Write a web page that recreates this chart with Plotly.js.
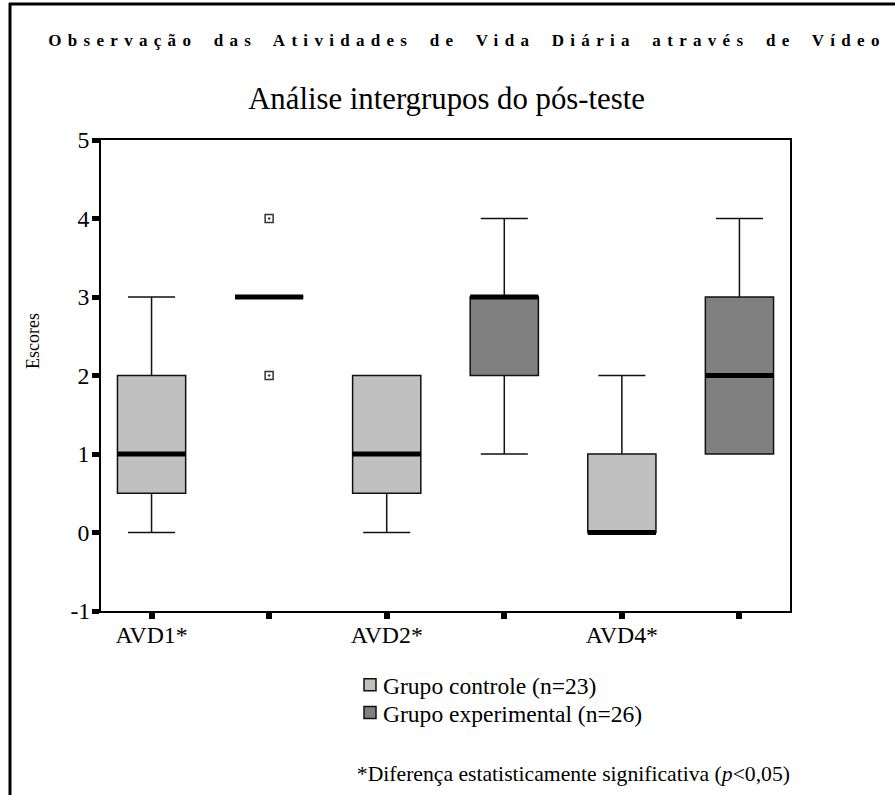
<!DOCTYPE html>
<html>
<head>
<meta charset="utf-8">
<script src="https://cdn.plot.ly/plotly-3.0.1.min.js"></script>
<style>
  html, body { margin: 0; padding: 0; background: #fff; }
  #chart { width: 895px; height: 795px; }
  .gtitle { letter-spacing: 6.3px; word-spacing: 6px; }
  g.annotation[data-index="0"] text { transform-box: fill-box; transform-origin: center; transform: scale(1.62); }
  g.annotation[data-index="2"] text { transform-box: fill-box; transform-origin: right center; transform: scale(1.14); }
  g.xtick, g.ytick { transform-box: fill-box; transform-origin: center; transform: scale(1.25); }
  text.legendtext { transform-box: fill-box; transform-origin: left center; transform: translateX(-7px) scale(1.24); }
</style>
</head>
<body>
<div id="chart"></div>
<script>
// ---- data ----
const groups = ['AVD1*', 'AVD2*', 'AVD4*'];
const seriesNames = ['Grupo controle (n=23)', 'Grupo experimental (n=26)'];
const yTickValues = [-1, 0, 1, 2, 3, 4, 5];
const yTickLabels = ['-1', '0', '1', '2', '3', '4', '5'];

const ctrlLower  = [0, 0, 0];
const ctrlQ1     = [0.5, 0.5, 0];
const ctrlMedian = [1, 1, 0];
const ctrlQ3     = [2, 2, 1];
const ctrlUpper  = [3, 2, 2];

const expLower  = [3, 1, 1];
const expQ1     = [3, 2, 1];
const expMedian = [3, 3, 2];
const expQ3     = [3, 3, 3];
const expUpper  = [3, 4, 4];

// outliers (experimental group, AVD1)
const outlierGroup  = [0, 0];
const outlierValues = [4, 2];

// ---- styles ----
const ctrlColor = '#c0c0c0';
const expColor  = '#808080';
const lineColor = '#111111';
const boxWidth = 0.58;
const serif = 'Liberation Serif';

// positions: control at 2i, experimental at 2i+1
const ctrlPos = groups.map((g, i) => 2 * i);
const expPos  = groups.map((g, i) => 2 * i + 1);
const tickVals = [];
const tickText = [];
groups.forEach((g, i) => { tickVals.push(2 * i, 2 * i + 1); tickText.push(g, ''); });

function medianSegments(pos, med) {
  const xs = [], ys = [];
  pos.forEach((p, i) => { xs.push(p - boxWidth / 2, p + boxWidth / 2, null); ys.push(med[i], med[i], null); });
  return { xs, ys };
}
const mc = medianSegments(ctrlPos, ctrlMedian);
const me = medianSegments(expPos, expMedian);

const traces = [
  {
    type: 'box', name: seriesNames[0], x: ctrlPos,
    q1: ctrlQ1, median: ctrlMedian, q3: ctrlQ3,
    lowerfence: ctrlLower, upperfence: ctrlUpper,
    width: boxWidth, whiskerwidth: 0.69, boxpoints: false,
    fillcolor: ctrlColor, line: { color: lineColor, width: 1.5 },
    hoverinfo: 'skip'
  },
  {
    type: 'box', name: seriesNames[1], x: expPos,
    q1: expQ1, median: expMedian, q3: expQ3,
    lowerfence: expLower, upperfence: expUpper,
    width: boxWidth, whiskerwidth: 0.69, boxpoints: false,
    fillcolor: expColor, line: { color: lineColor, width: 1.5 },
    hoverinfo: 'skip'
  },
  {
    type: 'scatter', mode: 'lines', x: mc.xs, y: mc.ys,
    line: { color: '#000', width: 5 }, showlegend: false, hoverinfo: 'skip'
  },
  {
    type: 'scatter', mode: 'lines', x: me.xs, y: me.ys,
    line: { color: '#000', width: 5 }, showlegend: false, hoverinfo: 'skip'
  },
  {
    type: 'scatter', mode: 'markers',
    x: outlierGroup.map(i => expPos[i]), y: outlierValues,
    marker: { symbol: 'square-open-dot', size: 8, color: '#333', line: { width: 1.5, color: '#333' } },
    showlegend: false, hoverinfo: 'skip'
  }
];

const L = 101, R = 790, T = 140, B = 611;
const px = v => (v - L) / (R - L);
const py = v => (B - v) / (B - T);

const layout = {
  width: 895, height: 795,
  margin: { l: L, r: 895 - R, t: T, b: 795 - B },
  paper_bgcolor: '#fff', plot_bgcolor: '#fff',
  font: { family: serif, color: '#000' },
  title: {
    text: 'Observação das Atividades de Vida Diária através de Vídeo',
    font: { family: serif, size: 17, weight: 700, color: '#000' },
    xref: 'container', yref: 'container',
    x: 467 / 895, y: 1 - 40 / 795, xanchor: 'center', yanchor: 'middle'
  },
  showlegend: true,
  legend: {
    x: px(350), y: py(666), xanchor: 'left', yanchor: 'top',
    font: { family: serif, size: 19, color: '#000' },
    bgcolor: 'rgba(0,0,0,0)', tracegroupgap: 0, itemwidth: 30
  },
  xaxis: {
    range: [-0.43, 5.43], tickmode: 'array', tickvals: tickVals, ticktext: tickText,
    showgrid: false, zeroline: false,
    showline: true, linecolor: '#000', linewidth: 2, mirror: true,
    ticks: 'outside', ticklen: 6, tickwidth: 6, tickcolor: '#000',
    tickfont: { family: serif, size: 19, color: '#000' }
  },
  yaxis: {
    range: [-1, 5], tickmode: 'array', tickvals: yTickValues, ticktext: yTickLabels,
    showgrid: false, zeroline: false,
    showline: true, linecolor: '#000', linewidth: 2, mirror: true,
    ticks: 'outside', ticklen: 7, tickwidth: 5, tickcolor: '#000',
    tickfont: { family: serif, size: 19, color: '#000' }
  },
  annotations: [
    {
      text: 'Análise intergrupos do pós-teste', xref: 'paper', yref: 'paper',
      x: px(446.5), y: py(98), xanchor: 'center', yanchor: 'middle', showarrow: false,
      font: { family: serif, size: 19, color: '#000' }
    },
    {
      text: 'Escores', xref: 'paper', yref: 'paper', textangle: -90,
      x: px(33), y: py(341), xanchor: 'center', yanchor: 'middle', showarrow: false,
      font: { family: serif, size: 18, color: '#000' }
    },
    {
      text: '*Diferença estatisticamente significativa (<i>p</i>&lt;0,05)', xref: 'paper', yref: 'paper',
      x: px(792), y: py(774), xanchor: 'right', yanchor: 'middle', showarrow: false,
      font: { family: serif, size: 19, color: '#000' }
    }
  ],
  shapes: [
    { type: 'line', xref: 'paper', yref: 'paper', x0: px(9), x1: px(900), y0: py(4), y1: py(4), line: { color: '#000', width: 3 } },
    { type: 'line', xref: 'paper', yref: 'paper', x0: px(10), x1: px(10), y0: py(3), y1: py(800), line: { color: '#000', width: 3 } }
  ]
};

Plotly.newPlot('chart', traces, layout, { displayModeBar: false, staticPlot: true });
</script>
</body>
</html>
